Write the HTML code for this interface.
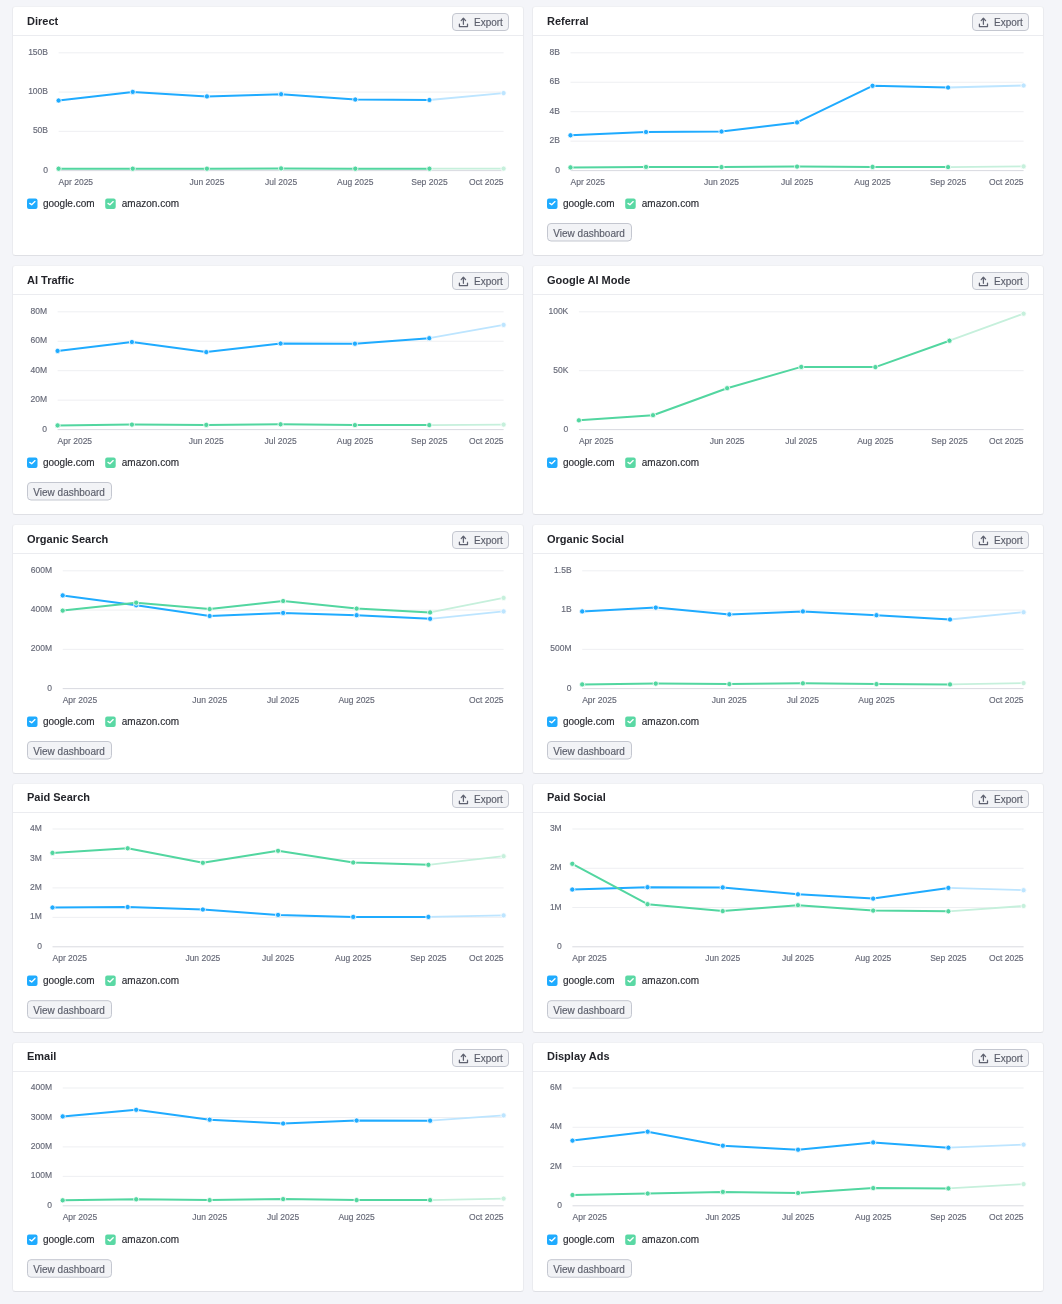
<!DOCTYPE html>
<html><head><meta charset="utf-8"><title>Traffic channels</title>
<style>
html,body{margin:0;padding:0;}
body{width:1062px;height:1304px;background:#f4f5f9;position:relative;overflow:hidden;font-family:"Liberation Sans", sans-serif;}
.card{position:absolute;width:510px;height:248px;background:#fff;border:1px solid #eaebef;border-top-color:#f0f1f4;border-bottom-color:#dfe0e5;border-radius:3.5px;overflow:hidden;}
.card svg{overflow:visible;will-change:transform}
text{font-family:"Liberation Sans", sans-serif;}
.ttl{font-size:11px;font-weight:700;fill:#23242a;}
.btn{font-size:10px;fill:#5b5e6b;stroke:#5b5e6b;stroke-width:0.15px;}
.yl{font-size:8.5px;fill:#666977;stroke:#666977;stroke-width:0.15px;text-anchor:end;}
.xl{font-size:8.5px;fill:#666977;stroke:#666977;stroke-width:0.15px;}
.lg{font-size:10px;fill:#2a2b32;stroke:#2a2b32;stroke-width:0.15px;}
</style></head>
<body>
<div class="card" style="left:12px;top:6px"><svg width="510" height="248" viewBox="0 0 510 248" style="position:absolute;left:0;top:0"><text x="14" y="18.00" class="ttl">Direct</text><rect x="0" y="28" width="510" height="1" fill="#ebecf0"/><rect x="439.5" y="6.5" width="56" height="17" rx="3.5" fill="#f2f3f6" stroke="#c4c7d0" stroke-width="1"/><g fill="none" stroke="#5f6270" stroke-width="1.25" stroke-linecap="round" stroke-linejoin="round"><path d="M450.4 11.4 V17.3"/><path d="M448.2 13.6 L450.4 11.3 L452.6 13.6"/><path d="M446.4 17.1 V19.5 H454.5 V17.1"/></g><text x="461" y="18.6" class="btn">Export</text><rect x="45.60" y="45.30" width="445.00" height="1" fill="#eeeff2"/><text x="35.00" y="47.90" class="yl">150B</text><rect x="45.60" y="84.57" width="445.00" height="1" fill="#eeeff2"/><text x="35.00" y="87.17" class="yl">100B</text><rect x="45.60" y="123.83" width="445.00" height="1" fill="#eeeff2"/><text x="35.00" y="126.43" class="yl">50B</text><rect x="45.60" y="163.10" width="445.00" height="1" fill="#d9dae0"/><text x="35.00" y="165.70" class="yl">0</text><text x="45.60" y="178.10" class="xl" text-anchor="start">Apr 2025</text><text x="193.93" y="178.10" class="xl" text-anchor="middle">Jun 2025</text><text x="268.10" y="178.10" class="xl" text-anchor="middle">Jul 2025</text><text x="342.27" y="178.10" class="xl" text-anchor="middle">Aug 2025</text><text x="416.43" y="178.10" class="xl" text-anchor="middle">Sep 2025</text><text x="490.60" y="178.10" class="xl" text-anchor="end">Oct 2025</text><path d="M45.60 93.50 L119.77 84.90 L193.93 89.40 L268.10 87.20 L342.27 92.50 L416.43 93.00" fill="none" stroke="#1fabff" stroke-width="2" stroke-linejoin="round" stroke-linecap="round"/><path d="M416.43 93.00 L490.60 86.10" fill="none" stroke="#bde5ff" stroke-width="1.8" stroke-linecap="round"/><circle cx="45.60" cy="93.50" r="2.6" fill="#1fabff" stroke="#fff" stroke-width="0.8"/><circle cx="119.77" cy="84.90" r="2.6" fill="#1fabff" stroke="#fff" stroke-width="0.8"/><circle cx="193.93" cy="89.40" r="2.6" fill="#1fabff" stroke="#fff" stroke-width="0.8"/><circle cx="268.10" cy="87.20" r="2.6" fill="#1fabff" stroke="#fff" stroke-width="0.8"/><circle cx="342.27" cy="92.50" r="2.6" fill="#1fabff" stroke="#fff" stroke-width="0.8"/><circle cx="416.43" cy="93.00" r="2.6" fill="#1fabff" stroke="#fff" stroke-width="0.8"/><circle cx="490.60" cy="86.10" r="2.6" fill="#bde5ff" stroke="#fff" stroke-width="0.8"/><path d="M45.60 161.70 L119.77 161.70 L193.93 161.70 L268.10 161.40 L342.27 161.70 L416.43 161.70" fill="none" stroke="#52d6a0" stroke-width="2" stroke-linejoin="round" stroke-linecap="round"/><path d="M416.43 161.70 L490.60 161.60" fill="none" stroke="#c6f0dc" stroke-width="1.8" stroke-linecap="round"/><circle cx="45.60" cy="161.70" r="2.6" fill="#52d6a0" stroke="#fff" stroke-width="0.8"/><circle cx="119.77" cy="161.70" r="2.6" fill="#52d6a0" stroke="#fff" stroke-width="0.8"/><circle cx="193.93" cy="161.70" r="2.6" fill="#52d6a0" stroke="#fff" stroke-width="0.8"/><circle cx="268.10" cy="161.40" r="2.6" fill="#52d6a0" stroke="#fff" stroke-width="0.8"/><circle cx="342.27" cy="161.70" r="2.6" fill="#52d6a0" stroke="#fff" stroke-width="0.8"/><circle cx="416.43" cy="161.70" r="2.6" fill="#52d6a0" stroke="#fff" stroke-width="0.8"/><circle cx="490.60" cy="161.60" r="2.6" fill="#c6f0dc" stroke="#fff" stroke-width="0.8"/><rect x="14" y="191.40" width="10.5" height="10.5" rx="2" fill="#1fabff"/><path d="M16.8 196.40 L18.7 197.80 L22.0 194.60" fill="none" stroke="#fff" stroke-width="1.35" stroke-linecap="round" stroke-linejoin="round"/><text x="29.9" y="199.70" class="lg">google.com</text><rect x="92.2" y="191.40" width="10.5" height="10.5" rx="2" fill="#5ad8a4"/><path d="M95.0 196.40 L96.9 197.80 L100.2 194.60" fill="none" stroke="#fff" stroke-width="1.35" stroke-linecap="round" stroke-linejoin="round"/><text x="108.8" y="199.70" class="lg">amazon.com</text></svg></div><div class="card" style="left:532px;top:6px"><svg width="510" height="248" viewBox="0 0 510 248" style="position:absolute;left:0;top:0"><text x="14" y="18.00" class="ttl">Referral</text><rect x="0" y="28" width="510" height="1" fill="#ebecf0"/><rect x="439.5" y="6.5" width="56" height="17" rx="3.5" fill="#f2f3f6" stroke="#c4c7d0" stroke-width="1"/><g fill="none" stroke="#5f6270" stroke-width="1.25" stroke-linecap="round" stroke-linejoin="round"><path d="M450.4 11.4 V17.3"/><path d="M448.2 13.6 L450.4 11.3 L452.6 13.6"/><path d="M446.4 17.1 V19.5 H454.5 V17.1"/></g><text x="461" y="18.6" class="btn">Export</text><rect x="37.50" y="45.30" width="453.10" height="1" fill="#eeeff2"/><text x="26.90" y="47.90" class="yl">8B</text><rect x="37.50" y="74.75" width="453.10" height="1" fill="#eeeff2"/><text x="26.90" y="77.35" class="yl">6B</text><rect x="37.50" y="104.20" width="453.10" height="1" fill="#eeeff2"/><text x="26.90" y="106.80" class="yl">4B</text><rect x="37.50" y="133.65" width="453.10" height="1" fill="#eeeff2"/><text x="26.90" y="136.25" class="yl">2B</text><rect x="37.50" y="163.10" width="453.10" height="1" fill="#d9dae0"/><text x="26.90" y="165.70" class="yl">0</text><text x="37.50" y="178.10" class="xl" text-anchor="start">Apr 2025</text><text x="188.53" y="178.10" class="xl" text-anchor="middle">Jun 2025</text><text x="264.05" y="178.10" class="xl" text-anchor="middle">Jul 2025</text><text x="339.57" y="178.10" class="xl" text-anchor="middle">Aug 2025</text><text x="415.08" y="178.10" class="xl" text-anchor="middle">Sep 2025</text><text x="490.60" y="178.10" class="xl" text-anchor="end">Oct 2025</text><path d="M37.50 128.30 L113.02 125.00 L188.53 124.50 L264.05 115.40 L339.57 78.80 L415.08 80.50" fill="none" stroke="#1fabff" stroke-width="2" stroke-linejoin="round" stroke-linecap="round"/><path d="M415.08 80.50 L490.60 78.50" fill="none" stroke="#bde5ff" stroke-width="1.8" stroke-linecap="round"/><circle cx="37.50" cy="128.30" r="2.6" fill="#1fabff" stroke="#fff" stroke-width="0.8"/><circle cx="113.02" cy="125.00" r="2.6" fill="#1fabff" stroke="#fff" stroke-width="0.8"/><circle cx="188.53" cy="124.50" r="2.6" fill="#1fabff" stroke="#fff" stroke-width="0.8"/><circle cx="264.05" cy="115.40" r="2.6" fill="#1fabff" stroke="#fff" stroke-width="0.8"/><circle cx="339.57" cy="78.80" r="2.6" fill="#1fabff" stroke="#fff" stroke-width="0.8"/><circle cx="415.08" cy="80.50" r="2.6" fill="#1fabff" stroke="#fff" stroke-width="0.8"/><circle cx="490.60" cy="78.50" r="2.6" fill="#bde5ff" stroke="#fff" stroke-width="0.8"/><path d="M37.50 160.40 L113.02 159.90 L188.53 160.10 L264.05 159.60 L339.57 159.90 L415.08 160.10" fill="none" stroke="#52d6a0" stroke-width="2" stroke-linejoin="round" stroke-linecap="round"/><path d="M415.08 160.10 L490.60 159.40" fill="none" stroke="#c6f0dc" stroke-width="1.8" stroke-linecap="round"/><circle cx="37.50" cy="160.40" r="2.6" fill="#52d6a0" stroke="#fff" stroke-width="0.8"/><circle cx="113.02" cy="159.90" r="2.6" fill="#52d6a0" stroke="#fff" stroke-width="0.8"/><circle cx="188.53" cy="160.10" r="2.6" fill="#52d6a0" stroke="#fff" stroke-width="0.8"/><circle cx="264.05" cy="159.60" r="2.6" fill="#52d6a0" stroke="#fff" stroke-width="0.8"/><circle cx="339.57" cy="159.90" r="2.6" fill="#52d6a0" stroke="#fff" stroke-width="0.8"/><circle cx="415.08" cy="160.10" r="2.6" fill="#52d6a0" stroke="#fff" stroke-width="0.8"/><circle cx="490.60" cy="159.40" r="2.6" fill="#c6f0dc" stroke="#fff" stroke-width="0.8"/><rect x="14" y="191.40" width="10.5" height="10.5" rx="2" fill="#1fabff"/><path d="M16.8 196.40 L18.7 197.80 L22.0 194.60" fill="none" stroke="#fff" stroke-width="1.35" stroke-linecap="round" stroke-linejoin="round"/><text x="29.9" y="199.70" class="lg">google.com</text><rect x="92.2" y="191.40" width="10.5" height="10.5" rx="2" fill="#5ad8a4"/><path d="M95.0 196.40 L96.9 197.80 L100.2 194.60" fill="none" stroke="#fff" stroke-width="1.35" stroke-linecap="round" stroke-linejoin="round"/><text x="108.8" y="199.70" class="lg">amazon.com</text><rect x="14.5" y="216.50" width="84" height="17.5" rx="3.5" fill="#f2f3f6" stroke="#c4c7d0" stroke-width="1"/><text x="20.3" y="229.70" class="btn">View dashboard</text></svg></div><div class="card" style="left:12px;top:265px"><svg width="510" height="248" viewBox="0 0 510 248" style="position:absolute;left:0;top:0"><text x="14" y="18.00" class="ttl">AI Traffic</text><rect x="0" y="28" width="510" height="1" fill="#ebecf0"/><rect x="439.5" y="6.5" width="56" height="17" rx="3.5" fill="#f2f3f6" stroke="#c4c7d0" stroke-width="1"/><g fill="none" stroke="#5f6270" stroke-width="1.25" stroke-linecap="round" stroke-linejoin="round"><path d="M450.4 11.4 V17.3"/><path d="M448.2 13.6 L450.4 11.3 L452.6 13.6"/><path d="M446.4 17.1 V19.5 H454.5 V17.1"/></g><text x="461" y="18.6" class="btn">Export</text><rect x="44.60" y="45.30" width="446.00" height="1" fill="#eeeff2"/><text x="34.00" y="47.90" class="yl">80M</text><rect x="44.60" y="74.75" width="446.00" height="1" fill="#eeeff2"/><text x="34.00" y="77.35" class="yl">60M</text><rect x="44.60" y="104.20" width="446.00" height="1" fill="#eeeff2"/><text x="34.00" y="106.80" class="yl">40M</text><rect x="44.60" y="133.65" width="446.00" height="1" fill="#eeeff2"/><text x="34.00" y="136.25" class="yl">20M</text><rect x="44.60" y="163.10" width="446.00" height="1" fill="#d9dae0"/><text x="34.00" y="165.70" class="yl">0</text><text x="44.60" y="178.10" class="xl" text-anchor="start">Apr 2025</text><text x="193.27" y="178.10" class="xl" text-anchor="middle">Jun 2025</text><text x="267.60" y="178.10" class="xl" text-anchor="middle">Jul 2025</text><text x="341.93" y="178.10" class="xl" text-anchor="middle">Aug 2025</text><text x="416.27" y="178.10" class="xl" text-anchor="middle">Sep 2025</text><text x="490.60" y="178.10" class="xl" text-anchor="end">Oct 2025</text><path d="M44.60 84.90 L118.93 76.00 L193.27 86.10 L267.60 77.50 L341.93 77.70 L416.27 72.20" fill="none" stroke="#1fabff" stroke-width="2" stroke-linejoin="round" stroke-linecap="round"/><path d="M416.27 72.20 L490.60 58.90" fill="none" stroke="#bde5ff" stroke-width="1.8" stroke-linecap="round"/><circle cx="44.60" cy="84.90" r="2.6" fill="#1fabff" stroke="#fff" stroke-width="0.8"/><circle cx="118.93" cy="76.00" r="2.6" fill="#1fabff" stroke="#fff" stroke-width="0.8"/><circle cx="193.27" cy="86.10" r="2.6" fill="#1fabff" stroke="#fff" stroke-width="0.8"/><circle cx="267.60" cy="77.50" r="2.6" fill="#1fabff" stroke="#fff" stroke-width="0.8"/><circle cx="341.93" cy="77.70" r="2.6" fill="#1fabff" stroke="#fff" stroke-width="0.8"/><circle cx="416.27" cy="72.20" r="2.6" fill="#1fabff" stroke="#fff" stroke-width="0.8"/><circle cx="490.60" cy="58.90" r="2.6" fill="#bde5ff" stroke="#fff" stroke-width="0.8"/><path d="M44.60 159.40 L118.93 158.60 L193.27 158.90 L267.60 158.30 L341.93 159.10 L416.27 159.10" fill="none" stroke="#52d6a0" stroke-width="2" stroke-linejoin="round" stroke-linecap="round"/><path d="M416.27 159.10 L490.60 158.60" fill="none" stroke="#c6f0dc" stroke-width="1.8" stroke-linecap="round"/><circle cx="44.60" cy="159.40" r="2.6" fill="#52d6a0" stroke="#fff" stroke-width="0.8"/><circle cx="118.93" cy="158.60" r="2.6" fill="#52d6a0" stroke="#fff" stroke-width="0.8"/><circle cx="193.27" cy="158.90" r="2.6" fill="#52d6a0" stroke="#fff" stroke-width="0.8"/><circle cx="267.60" cy="158.30" r="2.6" fill="#52d6a0" stroke="#fff" stroke-width="0.8"/><circle cx="341.93" cy="159.10" r="2.6" fill="#52d6a0" stroke="#fff" stroke-width="0.8"/><circle cx="416.27" cy="159.10" r="2.6" fill="#52d6a0" stroke="#fff" stroke-width="0.8"/><circle cx="490.60" cy="158.60" r="2.6" fill="#c6f0dc" stroke="#fff" stroke-width="0.8"/><rect x="14" y="191.40" width="10.5" height="10.5" rx="2" fill="#1fabff"/><path d="M16.8 196.40 L18.7 197.80 L22.0 194.60" fill="none" stroke="#fff" stroke-width="1.35" stroke-linecap="round" stroke-linejoin="round"/><text x="29.9" y="199.70" class="lg">google.com</text><rect x="92.2" y="191.40" width="10.5" height="10.5" rx="2" fill="#5ad8a4"/><path d="M95.0 196.40 L96.9 197.80 L100.2 194.60" fill="none" stroke="#fff" stroke-width="1.35" stroke-linecap="round" stroke-linejoin="round"/><text x="108.8" y="199.70" class="lg">amazon.com</text><rect x="14.5" y="216.50" width="84" height="17.5" rx="3.5" fill="#f2f3f6" stroke="#c4c7d0" stroke-width="1"/><text x="20.3" y="229.70" class="btn">View dashboard</text></svg></div><div class="card" style="left:532px;top:265px"><svg width="510" height="248" viewBox="0 0 510 248" style="position:absolute;left:0;top:0"><text x="14" y="18.00" class="ttl">Google AI Mode</text><rect x="0" y="28" width="510" height="1" fill="#ebecf0"/><rect x="439.5" y="6.5" width="56" height="17" rx="3.5" fill="#f2f3f6" stroke="#c4c7d0" stroke-width="1"/><g fill="none" stroke="#5f6270" stroke-width="1.25" stroke-linecap="round" stroke-linejoin="round"><path d="M450.4 11.4 V17.3"/><path d="M448.2 13.6 L450.4 11.3 L452.6 13.6"/><path d="M446.4 17.1 V19.5 H454.5 V17.1"/></g><text x="461" y="18.6" class="btn">Export</text><rect x="45.90" y="45.30" width="444.70" height="1" fill="#eeeff2"/><text x="35.30" y="47.90" class="yl">100K</text><rect x="45.90" y="104.20" width="444.70" height="1" fill="#eeeff2"/><text x="35.30" y="106.80" class="yl">50K</text><rect x="45.90" y="163.10" width="444.70" height="1" fill="#d9dae0"/><text x="35.30" y="165.70" class="yl">0</text><text x="45.90" y="178.10" class="xl" text-anchor="start">Apr 2025</text><text x="194.13" y="178.10" class="xl" text-anchor="middle">Jun 2025</text><text x="268.25" y="178.10" class="xl" text-anchor="middle">Jul 2025</text><text x="342.37" y="178.10" class="xl" text-anchor="middle">Aug 2025</text><text x="416.48" y="178.10" class="xl" text-anchor="middle">Sep 2025</text><text x="490.60" y="178.10" class="xl" text-anchor="end">Oct 2025</text><path d="M45.90 154.30 L120.02 149.20 L194.13 122.20 L268.25 100.90 L342.37 101.10 L416.48 74.70" fill="none" stroke="#52d6a0" stroke-width="2" stroke-linejoin="round" stroke-linecap="round"/><path d="M416.48 74.70 L490.60 47.70" fill="none" stroke="#c6f0dc" stroke-width="1.8" stroke-linecap="round"/><circle cx="45.90" cy="154.30" r="2.6" fill="#52d6a0" stroke="#fff" stroke-width="0.8"/><circle cx="120.02" cy="149.20" r="2.6" fill="#52d6a0" stroke="#fff" stroke-width="0.8"/><circle cx="194.13" cy="122.20" r="2.6" fill="#52d6a0" stroke="#fff" stroke-width="0.8"/><circle cx="268.25" cy="100.90" r="2.6" fill="#52d6a0" stroke="#fff" stroke-width="0.8"/><circle cx="342.37" cy="101.10" r="2.6" fill="#52d6a0" stroke="#fff" stroke-width="0.8"/><circle cx="416.48" cy="74.70" r="2.6" fill="#52d6a0" stroke="#fff" stroke-width="0.8"/><circle cx="490.60" cy="47.70" r="2.6" fill="#c6f0dc" stroke="#fff" stroke-width="0.8"/><rect x="14" y="191.40" width="10.5" height="10.5" rx="2" fill="#1fabff"/><path d="M16.8 196.40 L18.7 197.80 L22.0 194.60" fill="none" stroke="#fff" stroke-width="1.35" stroke-linecap="round" stroke-linejoin="round"/><text x="29.9" y="199.70" class="lg">google.com</text><rect x="92.2" y="191.40" width="10.5" height="10.5" rx="2" fill="#5ad8a4"/><path d="M95.0 196.40 L96.9 197.80 L100.2 194.60" fill="none" stroke="#fff" stroke-width="1.35" stroke-linecap="round" stroke-linejoin="round"/><text x="108.8" y="199.70" class="lg">amazon.com</text></svg></div><div class="card" style="left:12px;top:524px"><svg width="510" height="248" viewBox="0 0 510 248" style="position:absolute;left:0;top:0"><text x="14" y="18.00" class="ttl">Organic Search</text><rect x="0" y="28" width="510" height="1" fill="#ebecf0"/><rect x="439.5" y="6.5" width="56" height="17" rx="3.5" fill="#f2f3f6" stroke="#c4c7d0" stroke-width="1"/><g fill="none" stroke="#5f6270" stroke-width="1.25" stroke-linecap="round" stroke-linejoin="round"><path d="M450.4 11.4 V17.3"/><path d="M448.2 13.6 L450.4 11.3 L452.6 13.6"/><path d="M446.4 17.1 V19.5 H454.5 V17.1"/></g><text x="461" y="18.6" class="btn">Export</text><rect x="49.70" y="45.30" width="440.90" height="1" fill="#eeeff2"/><text x="39.10" y="47.90" class="yl">600M</text><rect x="49.70" y="84.57" width="440.90" height="1" fill="#eeeff2"/><text x="39.10" y="87.17" class="yl">400M</text><rect x="49.70" y="123.83" width="440.90" height="1" fill="#eeeff2"/><text x="39.10" y="126.43" class="yl">200M</text><rect x="49.70" y="163.10" width="440.90" height="1" fill="#d9dae0"/><text x="39.10" y="165.70" class="yl">0</text><text x="49.70" y="178.10" class="xl" text-anchor="start">Apr 2025</text><text x="196.67" y="178.10" class="xl" text-anchor="middle">Jun 2025</text><text x="270.15" y="178.10" class="xl" text-anchor="middle">Jul 2025</text><text x="343.63" y="178.10" class="xl" text-anchor="middle">Aug 2025</text><text x="490.60" y="178.10" class="xl" text-anchor="end">Oct 2025</text><path d="M49.70 70.40 L123.18 80.30 L196.67 91.00 L270.15 87.90 L343.63 90.20 L417.12 93.80" fill="none" stroke="#1fabff" stroke-width="2" stroke-linejoin="round" stroke-linecap="round"/><path d="M417.12 93.80 L490.60 86.40" fill="none" stroke="#bde5ff" stroke-width="1.8" stroke-linecap="round"/><circle cx="49.70" cy="70.40" r="2.6" fill="#1fabff" stroke="#fff" stroke-width="0.8"/><circle cx="123.18" cy="80.30" r="2.6" fill="#1fabff" stroke="#fff" stroke-width="0.8"/><circle cx="196.67" cy="91.00" r="2.6" fill="#1fabff" stroke="#fff" stroke-width="0.8"/><circle cx="270.15" cy="87.90" r="2.6" fill="#1fabff" stroke="#fff" stroke-width="0.8"/><circle cx="343.63" cy="90.20" r="2.6" fill="#1fabff" stroke="#fff" stroke-width="0.8"/><circle cx="417.12" cy="93.80" r="2.6" fill="#1fabff" stroke="#fff" stroke-width="0.8"/><circle cx="490.60" cy="86.40" r="2.6" fill="#bde5ff" stroke="#fff" stroke-width="0.8"/><path d="M49.70 85.60 L123.18 77.70 L196.67 84.10 L270.15 76.00 L343.63 83.60 L417.12 87.40" fill="none" stroke="#52d6a0" stroke-width="2" stroke-linejoin="round" stroke-linecap="round"/><path d="M417.12 87.40 L490.60 72.90" fill="none" stroke="#c6f0dc" stroke-width="1.8" stroke-linecap="round"/><circle cx="49.70" cy="85.60" r="2.6" fill="#52d6a0" stroke="#fff" stroke-width="0.8"/><circle cx="123.18" cy="77.70" r="2.6" fill="#52d6a0" stroke="#fff" stroke-width="0.8"/><circle cx="196.67" cy="84.10" r="2.6" fill="#52d6a0" stroke="#fff" stroke-width="0.8"/><circle cx="270.15" cy="76.00" r="2.6" fill="#52d6a0" stroke="#fff" stroke-width="0.8"/><circle cx="343.63" cy="83.60" r="2.6" fill="#52d6a0" stroke="#fff" stroke-width="0.8"/><circle cx="417.12" cy="87.40" r="2.6" fill="#52d6a0" stroke="#fff" stroke-width="0.8"/><circle cx="490.60" cy="72.90" r="2.6" fill="#c6f0dc" stroke="#fff" stroke-width="0.8"/><rect x="14" y="191.40" width="10.5" height="10.5" rx="2" fill="#1fabff"/><path d="M16.8 196.40 L18.7 197.80 L22.0 194.60" fill="none" stroke="#fff" stroke-width="1.35" stroke-linecap="round" stroke-linejoin="round"/><text x="29.9" y="199.70" class="lg">google.com</text><rect x="92.2" y="191.40" width="10.5" height="10.5" rx="2" fill="#5ad8a4"/><path d="M95.0 196.40 L96.9 197.80 L100.2 194.60" fill="none" stroke="#fff" stroke-width="1.35" stroke-linecap="round" stroke-linejoin="round"/><text x="108.8" y="199.70" class="lg">amazon.com</text><rect x="14.5" y="216.50" width="84" height="17.5" rx="3.5" fill="#f2f3f6" stroke="#c4c7d0" stroke-width="1"/><text x="20.3" y="229.70" class="btn">View dashboard</text></svg></div><div class="card" style="left:532px;top:524px"><svg width="510" height="248" viewBox="0 0 510 248" style="position:absolute;left:0;top:0"><text x="14" y="18.00" class="ttl">Organic Social</text><rect x="0" y="28" width="510" height="1" fill="#ebecf0"/><rect x="439.5" y="6.5" width="56" height="17" rx="3.5" fill="#f2f3f6" stroke="#c4c7d0" stroke-width="1"/><g fill="none" stroke="#5f6270" stroke-width="1.25" stroke-linecap="round" stroke-linejoin="round"><path d="M450.4 11.4 V17.3"/><path d="M448.2 13.6 L450.4 11.3 L452.6 13.6"/><path d="M446.4 17.1 V19.5 H454.5 V17.1"/></g><text x="461" y="18.6" class="btn">Export</text><rect x="49.20" y="45.30" width="441.40" height="1" fill="#eeeff2"/><text x="38.60" y="47.90" class="yl">1.5B</text><rect x="49.20" y="84.57" width="441.40" height="1" fill="#eeeff2"/><text x="38.60" y="87.17" class="yl">1B</text><rect x="49.20" y="123.83" width="441.40" height="1" fill="#eeeff2"/><text x="38.60" y="126.43" class="yl">500M</text><rect x="49.20" y="163.10" width="441.40" height="1" fill="#d9dae0"/><text x="38.60" y="165.70" class="yl">0</text><text x="49.20" y="178.10" class="xl" text-anchor="start">Apr 2025</text><text x="196.33" y="178.10" class="xl" text-anchor="middle">Jun 2025</text><text x="269.90" y="178.10" class="xl" text-anchor="middle">Jul 2025</text><text x="343.47" y="178.10" class="xl" text-anchor="middle">Aug 2025</text><text x="490.60" y="178.10" class="xl" text-anchor="end">Oct 2025</text><path d="M49.20 86.40 L122.77 82.60 L196.33 89.40 L269.90 86.40 L343.47 90.20 L417.03 94.50" fill="none" stroke="#1fabff" stroke-width="2" stroke-linejoin="round" stroke-linecap="round"/><path d="M417.03 94.50 L490.60 87.20" fill="none" stroke="#bde5ff" stroke-width="1.8" stroke-linecap="round"/><circle cx="49.20" cy="86.40" r="2.6" fill="#1fabff" stroke="#fff" stroke-width="0.8"/><circle cx="122.77" cy="82.60" r="2.6" fill="#1fabff" stroke="#fff" stroke-width="0.8"/><circle cx="196.33" cy="89.40" r="2.6" fill="#1fabff" stroke="#fff" stroke-width="0.8"/><circle cx="269.90" cy="86.40" r="2.6" fill="#1fabff" stroke="#fff" stroke-width="0.8"/><circle cx="343.47" cy="90.20" r="2.6" fill="#1fabff" stroke="#fff" stroke-width="0.8"/><circle cx="417.03" cy="94.50" r="2.6" fill="#1fabff" stroke="#fff" stroke-width="0.8"/><circle cx="490.60" cy="87.20" r="2.6" fill="#bde5ff" stroke="#fff" stroke-width="0.8"/><path d="M49.20 159.40 L122.77 158.60 L196.33 159.10 L269.90 158.30 L343.47 159.10 L417.03 159.40" fill="none" stroke="#52d6a0" stroke-width="2" stroke-linejoin="round" stroke-linecap="round"/><path d="M417.03 159.40 L490.60 158.10" fill="none" stroke="#c6f0dc" stroke-width="1.8" stroke-linecap="round"/><circle cx="49.20" cy="159.40" r="2.6" fill="#52d6a0" stroke="#fff" stroke-width="0.8"/><circle cx="122.77" cy="158.60" r="2.6" fill="#52d6a0" stroke="#fff" stroke-width="0.8"/><circle cx="196.33" cy="159.10" r="2.6" fill="#52d6a0" stroke="#fff" stroke-width="0.8"/><circle cx="269.90" cy="158.30" r="2.6" fill="#52d6a0" stroke="#fff" stroke-width="0.8"/><circle cx="343.47" cy="159.10" r="2.6" fill="#52d6a0" stroke="#fff" stroke-width="0.8"/><circle cx="417.03" cy="159.40" r="2.6" fill="#52d6a0" stroke="#fff" stroke-width="0.8"/><circle cx="490.60" cy="158.10" r="2.6" fill="#c6f0dc" stroke="#fff" stroke-width="0.8"/><rect x="14" y="191.40" width="10.5" height="10.5" rx="2" fill="#1fabff"/><path d="M16.8 196.40 L18.7 197.80 L22.0 194.60" fill="none" stroke="#fff" stroke-width="1.35" stroke-linecap="round" stroke-linejoin="round"/><text x="29.9" y="199.70" class="lg">google.com</text><rect x="92.2" y="191.40" width="10.5" height="10.5" rx="2" fill="#5ad8a4"/><path d="M95.0 196.40 L96.9 197.80 L100.2 194.60" fill="none" stroke="#fff" stroke-width="1.35" stroke-linecap="round" stroke-linejoin="round"/><text x="108.8" y="199.70" class="lg">amazon.com</text><rect x="14.5" y="216.50" width="84" height="17.5" rx="3.5" fill="#f2f3f6" stroke="#c4c7d0" stroke-width="1"/><text x="20.3" y="229.70" class="btn">View dashboard</text></svg></div><div class="card" style="left:12px;top:783px"><svg width="510" height="248" viewBox="0 0 510 248" style="position:absolute;left:0;top:0"><text x="14" y="17.20" class="ttl">Paid Search</text><rect x="0" y="28" width="510" height="1" fill="#ebecf0"/><rect x="439.5" y="6.5" width="56" height="17" rx="3.5" fill="#f2f3f6" stroke="#c4c7d0" stroke-width="1"/><g fill="none" stroke="#5f6270" stroke-width="1.25" stroke-linecap="round" stroke-linejoin="round"><path d="M450.4 11.4 V17.3"/><path d="M448.2 13.6 L450.4 11.3 L452.6 13.6"/><path d="M446.4 17.1 V19.5 H454.5 V17.1"/></g><text x="461" y="18.6" class="btn">Export</text><rect x="39.50" y="44.50" width="451.10" height="1" fill="#eeeff2"/><text x="28.90" y="47.10" class="yl">4M</text><rect x="39.50" y="73.95" width="451.10" height="1" fill="#eeeff2"/><text x="28.90" y="76.55" class="yl">3M</text><rect x="39.50" y="103.40" width="451.10" height="1" fill="#eeeff2"/><text x="28.90" y="106.00" class="yl">2M</text><rect x="39.50" y="132.85" width="451.10" height="1" fill="#eeeff2"/><text x="28.90" y="135.45" class="yl">1M</text><rect x="39.50" y="162.30" width="451.10" height="1" fill="#d9dae0"/><text x="28.90" y="164.90" class="yl">0</text><text x="39.50" y="177.30" class="xl" text-anchor="start">Apr 2025</text><text x="189.87" y="177.30" class="xl" text-anchor="middle">Jun 2025</text><text x="265.05" y="177.30" class="xl" text-anchor="middle">Jul 2025</text><text x="340.23" y="177.30" class="xl" text-anchor="middle">Aug 2025</text><text x="415.42" y="177.30" class="xl" text-anchor="middle">Sep 2025</text><text x="490.60" y="177.30" class="xl" text-anchor="end">Oct 2025</text><path d="M39.50 123.50 L114.68 123.00 L189.87 125.50 L265.05 130.90 L340.23 132.90 L415.42 132.90" fill="none" stroke="#1fabff" stroke-width="2" stroke-linejoin="round" stroke-linecap="round"/><path d="M415.42 132.90 L490.60 131.40" fill="none" stroke="#bde5ff" stroke-width="1.8" stroke-linecap="round"/><circle cx="39.50" cy="123.50" r="2.6" fill="#1fabff" stroke="#fff" stroke-width="0.8"/><circle cx="114.68" cy="123.00" r="2.6" fill="#1fabff" stroke="#fff" stroke-width="0.8"/><circle cx="189.87" cy="125.50" r="2.6" fill="#1fabff" stroke="#fff" stroke-width="0.8"/><circle cx="265.05" cy="130.90" r="2.6" fill="#1fabff" stroke="#fff" stroke-width="0.8"/><circle cx="340.23" cy="132.90" r="2.6" fill="#1fabff" stroke="#fff" stroke-width="0.8"/><circle cx="415.42" cy="132.90" r="2.6" fill="#1fabff" stroke="#fff" stroke-width="0.8"/><circle cx="490.60" cy="131.40" r="2.6" fill="#bde5ff" stroke="#fff" stroke-width="0.8"/><path d="M39.50 68.90 L114.68 64.30 L189.87 78.80 L265.05 66.80 L340.23 78.50 L415.42 80.80" fill="none" stroke="#52d6a0" stroke-width="2" stroke-linejoin="round" stroke-linecap="round"/><path d="M415.42 80.80 L490.60 72.20" fill="none" stroke="#c6f0dc" stroke-width="1.8" stroke-linecap="round"/><circle cx="39.50" cy="68.90" r="2.6" fill="#52d6a0" stroke="#fff" stroke-width="0.8"/><circle cx="114.68" cy="64.30" r="2.6" fill="#52d6a0" stroke="#fff" stroke-width="0.8"/><circle cx="189.87" cy="78.80" r="2.6" fill="#52d6a0" stroke="#fff" stroke-width="0.8"/><circle cx="265.05" cy="66.80" r="2.6" fill="#52d6a0" stroke="#fff" stroke-width="0.8"/><circle cx="340.23" cy="78.50" r="2.6" fill="#52d6a0" stroke="#fff" stroke-width="0.8"/><circle cx="415.42" cy="80.80" r="2.6" fill="#52d6a0" stroke="#fff" stroke-width="0.8"/><circle cx="490.60" cy="72.20" r="2.6" fill="#c6f0dc" stroke="#fff" stroke-width="0.8"/><rect x="14" y="191.60" width="10.5" height="10.5" rx="2" fill="#1fabff"/><path d="M16.8 196.60 L18.7 198.00 L22.0 194.80" fill="none" stroke="#fff" stroke-width="1.35" stroke-linecap="round" stroke-linejoin="round"/><text x="29.9" y="199.90" class="lg">google.com</text><rect x="92.2" y="191.60" width="10.5" height="10.5" rx="2" fill="#5ad8a4"/><path d="M95.0 196.60 L96.9 198.00 L100.2 194.80" fill="none" stroke="#fff" stroke-width="1.35" stroke-linecap="round" stroke-linejoin="round"/><text x="108.8" y="199.90" class="lg">amazon.com</text><rect x="14.5" y="216.70" width="84" height="17.5" rx="3.5" fill="#f2f3f6" stroke="#c4c7d0" stroke-width="1"/><text x="20.3" y="229.90" class="btn">View dashboard</text></svg></div><div class="card" style="left:532px;top:783px"><svg width="510" height="248" viewBox="0 0 510 248" style="position:absolute;left:0;top:0"><text x="14" y="17.20" class="ttl">Paid Social</text><rect x="0" y="28" width="510" height="1" fill="#ebecf0"/><rect x="439.5" y="6.5" width="56" height="17" rx="3.5" fill="#f2f3f6" stroke="#c4c7d0" stroke-width="1"/><g fill="none" stroke="#5f6270" stroke-width="1.25" stroke-linecap="round" stroke-linejoin="round"><path d="M450.4 11.4 V17.3"/><path d="M448.2 13.6 L450.4 11.3 L452.6 13.6"/><path d="M446.4 17.1 V19.5 H454.5 V17.1"/></g><text x="461" y="18.6" class="btn">Export</text><rect x="39.30" y="44.50" width="451.30" height="1" fill="#eeeff2"/><text x="28.70" y="47.10" class="yl">3M</text><rect x="39.30" y="83.77" width="451.30" height="1" fill="#eeeff2"/><text x="28.70" y="86.37" class="yl">2M</text><rect x="39.30" y="123.03" width="451.30" height="1" fill="#eeeff2"/><text x="28.70" y="125.63" class="yl">1M</text><rect x="39.30" y="162.30" width="451.30" height="1" fill="#d9dae0"/><text x="28.70" y="164.90" class="yl">0</text><text x="39.30" y="177.30" class="xl" text-anchor="start">Apr 2025</text><text x="189.73" y="177.30" class="xl" text-anchor="middle">Jun 2025</text><text x="264.95" y="177.30" class="xl" text-anchor="middle">Jul 2025</text><text x="340.17" y="177.30" class="xl" text-anchor="middle">Aug 2025</text><text x="415.38" y="177.30" class="xl" text-anchor="middle">Sep 2025</text><text x="490.60" y="177.30" class="xl" text-anchor="end">Oct 2025</text><path d="M39.30 105.50 L114.52 103.20 L189.73 103.40 L264.95 110.30 L340.17 114.60 L415.38 103.90" fill="none" stroke="#1fabff" stroke-width="2" stroke-linejoin="round" stroke-linecap="round"/><path d="M415.38 103.90 L490.60 106.20" fill="none" stroke="#bde5ff" stroke-width="1.8" stroke-linecap="round"/><circle cx="39.30" cy="105.50" r="2.6" fill="#1fabff" stroke="#fff" stroke-width="0.8"/><circle cx="114.52" cy="103.20" r="2.6" fill="#1fabff" stroke="#fff" stroke-width="0.8"/><circle cx="189.73" cy="103.40" r="2.6" fill="#1fabff" stroke="#fff" stroke-width="0.8"/><circle cx="264.95" cy="110.30" r="2.6" fill="#1fabff" stroke="#fff" stroke-width="0.8"/><circle cx="340.17" cy="114.60" r="2.6" fill="#1fabff" stroke="#fff" stroke-width="0.8"/><circle cx="415.38" cy="103.90" r="2.6" fill="#1fabff" stroke="#fff" stroke-width="0.8"/><circle cx="490.60" cy="106.20" r="2.6" fill="#bde5ff" stroke="#fff" stroke-width="0.8"/><path d="M39.30 79.80 L114.52 120.20 L189.73 127.10 L264.95 121.20 L340.17 126.60 L415.38 127.30" fill="none" stroke="#52d6a0" stroke-width="2" stroke-linejoin="round" stroke-linecap="round"/><path d="M415.38 127.30 L490.60 122.00" fill="none" stroke="#c6f0dc" stroke-width="1.8" stroke-linecap="round"/><circle cx="39.30" cy="79.80" r="2.6" fill="#52d6a0" stroke="#fff" stroke-width="0.8"/><circle cx="114.52" cy="120.20" r="2.6" fill="#52d6a0" stroke="#fff" stroke-width="0.8"/><circle cx="189.73" cy="127.10" r="2.6" fill="#52d6a0" stroke="#fff" stroke-width="0.8"/><circle cx="264.95" cy="121.20" r="2.6" fill="#52d6a0" stroke="#fff" stroke-width="0.8"/><circle cx="340.17" cy="126.60" r="2.6" fill="#52d6a0" stroke="#fff" stroke-width="0.8"/><circle cx="415.38" cy="127.30" r="2.6" fill="#52d6a0" stroke="#fff" stroke-width="0.8"/><circle cx="490.60" cy="122.00" r="2.6" fill="#c6f0dc" stroke="#fff" stroke-width="0.8"/><rect x="14" y="191.60" width="10.5" height="10.5" rx="2" fill="#1fabff"/><path d="M16.8 196.60 L18.7 198.00 L22.0 194.80" fill="none" stroke="#fff" stroke-width="1.35" stroke-linecap="round" stroke-linejoin="round"/><text x="29.9" y="199.90" class="lg">google.com</text><rect x="92.2" y="191.60" width="10.5" height="10.5" rx="2" fill="#5ad8a4"/><path d="M95.0 196.60 L96.9 198.00 L100.2 194.80" fill="none" stroke="#fff" stroke-width="1.35" stroke-linecap="round" stroke-linejoin="round"/><text x="108.8" y="199.90" class="lg">amazon.com</text><rect x="14.5" y="216.70" width="84" height="17.5" rx="3.5" fill="#f2f3f6" stroke="#c4c7d0" stroke-width="1"/><text x="20.3" y="229.90" class="btn">View dashboard</text></svg></div><div class="card" style="left:12px;top:1042px"><svg width="510" height="248" viewBox="0 0 510 248" style="position:absolute;left:0;top:0"><text x="14" y="17.20" class="ttl">Email</text><rect x="0" y="28" width="510" height="1" fill="#ebecf0"/><rect x="439.5" y="6.5" width="56" height="17" rx="3.5" fill="#f2f3f6" stroke="#c4c7d0" stroke-width="1"/><g fill="none" stroke="#5f6270" stroke-width="1.25" stroke-linecap="round" stroke-linejoin="round"><path d="M450.4 11.4 V17.3"/><path d="M448.2 13.6 L450.4 11.3 L452.6 13.6"/><path d="M446.4 17.1 V19.5 H454.5 V17.1"/></g><text x="461" y="18.6" class="btn">Export</text><rect x="49.70" y="44.50" width="440.90" height="1" fill="#eeeff2"/><text x="39.10" y="47.10" class="yl">400M</text><rect x="49.70" y="73.95" width="440.90" height="1" fill="#eeeff2"/><text x="39.10" y="76.55" class="yl">300M</text><rect x="49.70" y="103.40" width="440.90" height="1" fill="#eeeff2"/><text x="39.10" y="106.00" class="yl">200M</text><rect x="49.70" y="132.85" width="440.90" height="1" fill="#eeeff2"/><text x="39.10" y="135.45" class="yl">100M</text><rect x="49.70" y="162.30" width="440.90" height="1" fill="#d9dae0"/><text x="39.10" y="164.90" class="yl">0</text><text x="49.70" y="177.30" class="xl" text-anchor="start">Apr 2025</text><text x="196.67" y="177.30" class="xl" text-anchor="middle">Jun 2025</text><text x="270.15" y="177.30" class="xl" text-anchor="middle">Jul 2025</text><text x="343.63" y="177.30" class="xl" text-anchor="middle">Aug 2025</text><text x="490.60" y="177.30" class="xl" text-anchor="end">Oct 2025</text><path d="M49.70 73.40 L123.18 66.80 L196.67 76.70 L270.15 80.50 L343.63 77.50 L417.12 77.70" fill="none" stroke="#1fabff" stroke-width="2" stroke-linejoin="round" stroke-linecap="round"/><path d="M417.12 77.70 L490.60 72.40" fill="none" stroke="#bde5ff" stroke-width="1.8" stroke-linecap="round"/><circle cx="49.70" cy="73.40" r="2.6" fill="#1fabff" stroke="#fff" stroke-width="0.8"/><circle cx="123.18" cy="66.80" r="2.6" fill="#1fabff" stroke="#fff" stroke-width="0.8"/><circle cx="196.67" cy="76.70" r="2.6" fill="#1fabff" stroke="#fff" stroke-width="0.8"/><circle cx="270.15" cy="80.50" r="2.6" fill="#1fabff" stroke="#fff" stroke-width="0.8"/><circle cx="343.63" cy="77.50" r="2.6" fill="#1fabff" stroke="#fff" stroke-width="0.8"/><circle cx="417.12" cy="77.70" r="2.6" fill="#1fabff" stroke="#fff" stroke-width="0.8"/><circle cx="490.60" cy="72.40" r="2.6" fill="#bde5ff" stroke="#fff" stroke-width="0.8"/><path d="M49.70 157.30 L123.18 156.30 L196.67 157.10 L270.15 156.10 L343.63 157.10 L417.12 157.10" fill="none" stroke="#52d6a0" stroke-width="2" stroke-linejoin="round" stroke-linecap="round"/><path d="M417.12 157.10 L490.60 155.60" fill="none" stroke="#c6f0dc" stroke-width="1.8" stroke-linecap="round"/><circle cx="49.70" cy="157.30" r="2.6" fill="#52d6a0" stroke="#fff" stroke-width="0.8"/><circle cx="123.18" cy="156.30" r="2.6" fill="#52d6a0" stroke="#fff" stroke-width="0.8"/><circle cx="196.67" cy="157.10" r="2.6" fill="#52d6a0" stroke="#fff" stroke-width="0.8"/><circle cx="270.15" cy="156.10" r="2.6" fill="#52d6a0" stroke="#fff" stroke-width="0.8"/><circle cx="343.63" cy="157.10" r="2.6" fill="#52d6a0" stroke="#fff" stroke-width="0.8"/><circle cx="417.12" cy="157.10" r="2.6" fill="#52d6a0" stroke="#fff" stroke-width="0.8"/><circle cx="490.60" cy="155.60" r="2.6" fill="#c6f0dc" stroke="#fff" stroke-width="0.8"/><rect x="14" y="191.60" width="10.5" height="10.5" rx="2" fill="#1fabff"/><path d="M16.8 196.60 L18.7 198.00 L22.0 194.80" fill="none" stroke="#fff" stroke-width="1.35" stroke-linecap="round" stroke-linejoin="round"/><text x="29.9" y="199.90" class="lg">google.com</text><rect x="92.2" y="191.60" width="10.5" height="10.5" rx="2" fill="#5ad8a4"/><path d="M95.0 196.60 L96.9 198.00 L100.2 194.80" fill="none" stroke="#fff" stroke-width="1.35" stroke-linecap="round" stroke-linejoin="round"/><text x="108.8" y="199.90" class="lg">amazon.com</text><rect x="14.5" y="216.70" width="84" height="17.5" rx="3.5" fill="#f2f3f6" stroke="#c4c7d0" stroke-width="1"/><text x="20.3" y="229.90" class="btn">View dashboard</text></svg></div><div class="card" style="left:532px;top:1042px"><svg width="510" height="248" viewBox="0 0 510 248" style="position:absolute;left:0;top:0"><text x="14" y="17.20" class="ttl">Display Ads</text><rect x="0" y="28" width="510" height="1" fill="#ebecf0"/><rect x="439.5" y="6.5" width="56" height="17" rx="3.5" fill="#f2f3f6" stroke="#c4c7d0" stroke-width="1"/><g fill="none" stroke="#5f6270" stroke-width="1.25" stroke-linecap="round" stroke-linejoin="round"><path d="M450.4 11.4 V17.3"/><path d="M448.2 13.6 L450.4 11.3 L452.6 13.6"/><path d="M446.4 17.1 V19.5 H454.5 V17.1"/></g><text x="461" y="18.6" class="btn">Export</text><rect x="39.50" y="44.50" width="451.10" height="1" fill="#eeeff2"/><text x="28.90" y="47.10" class="yl">6M</text><rect x="39.50" y="83.77" width="451.10" height="1" fill="#eeeff2"/><text x="28.90" y="86.37" class="yl">4M</text><rect x="39.50" y="123.03" width="451.10" height="1" fill="#eeeff2"/><text x="28.90" y="125.63" class="yl">2M</text><rect x="39.50" y="162.30" width="451.10" height="1" fill="#d9dae0"/><text x="28.90" y="164.90" class="yl">0</text><text x="39.50" y="177.30" class="xl" text-anchor="start">Apr 2025</text><text x="189.87" y="177.30" class="xl" text-anchor="middle">Jun 2025</text><text x="265.05" y="177.30" class="xl" text-anchor="middle">Jul 2025</text><text x="340.23" y="177.30" class="xl" text-anchor="middle">Aug 2025</text><text x="415.42" y="177.30" class="xl" text-anchor="middle">Sep 2025</text><text x="490.60" y="177.30" class="xl" text-anchor="end">Oct 2025</text><path d="M39.50 97.60 L114.68 88.70 L189.87 102.70 L265.05 106.70 L340.23 99.40 L415.42 104.70" fill="none" stroke="#1fabff" stroke-width="2" stroke-linejoin="round" stroke-linecap="round"/><path d="M415.42 104.70 L490.60 101.60" fill="none" stroke="#bde5ff" stroke-width="1.8" stroke-linecap="round"/><circle cx="39.50" cy="97.60" r="2.6" fill="#1fabff" stroke="#fff" stroke-width="0.8"/><circle cx="114.68" cy="88.70" r="2.6" fill="#1fabff" stroke="#fff" stroke-width="0.8"/><circle cx="189.87" cy="102.70" r="2.6" fill="#1fabff" stroke="#fff" stroke-width="0.8"/><circle cx="265.05" cy="106.70" r="2.6" fill="#1fabff" stroke="#fff" stroke-width="0.8"/><circle cx="340.23" cy="99.40" r="2.6" fill="#1fabff" stroke="#fff" stroke-width="0.8"/><circle cx="415.42" cy="104.70" r="2.6" fill="#1fabff" stroke="#fff" stroke-width="0.8"/><circle cx="490.60" cy="101.60" r="2.6" fill="#bde5ff" stroke="#fff" stroke-width="0.8"/><path d="M39.50 152.00 L114.68 150.50 L189.87 148.90 L265.05 150.00 L340.23 145.10 L415.42 145.40" fill="none" stroke="#52d6a0" stroke-width="2" stroke-linejoin="round" stroke-linecap="round"/><path d="M415.42 145.40 L490.60 141.10" fill="none" stroke="#c6f0dc" stroke-width="1.8" stroke-linecap="round"/><circle cx="39.50" cy="152.00" r="2.6" fill="#52d6a0" stroke="#fff" stroke-width="0.8"/><circle cx="114.68" cy="150.50" r="2.6" fill="#52d6a0" stroke="#fff" stroke-width="0.8"/><circle cx="189.87" cy="148.90" r="2.6" fill="#52d6a0" stroke="#fff" stroke-width="0.8"/><circle cx="265.05" cy="150.00" r="2.6" fill="#52d6a0" stroke="#fff" stroke-width="0.8"/><circle cx="340.23" cy="145.10" r="2.6" fill="#52d6a0" stroke="#fff" stroke-width="0.8"/><circle cx="415.42" cy="145.40" r="2.6" fill="#52d6a0" stroke="#fff" stroke-width="0.8"/><circle cx="490.60" cy="141.10" r="2.6" fill="#c6f0dc" stroke="#fff" stroke-width="0.8"/><rect x="14" y="191.60" width="10.5" height="10.5" rx="2" fill="#1fabff"/><path d="M16.8 196.60 L18.7 198.00 L22.0 194.80" fill="none" stroke="#fff" stroke-width="1.35" stroke-linecap="round" stroke-linejoin="round"/><text x="29.9" y="199.90" class="lg">google.com</text><rect x="92.2" y="191.60" width="10.5" height="10.5" rx="2" fill="#5ad8a4"/><path d="M95.0 196.60 L96.9 198.00 L100.2 194.80" fill="none" stroke="#fff" stroke-width="1.35" stroke-linecap="round" stroke-linejoin="round"/><text x="108.8" y="199.90" class="lg">amazon.com</text><rect x="14.5" y="216.70" width="84" height="17.5" rx="3.5" fill="#f2f3f6" stroke="#c4c7d0" stroke-width="1"/><text x="20.3" y="229.90" class="btn">View dashboard</text></svg></div>
</body></html>
